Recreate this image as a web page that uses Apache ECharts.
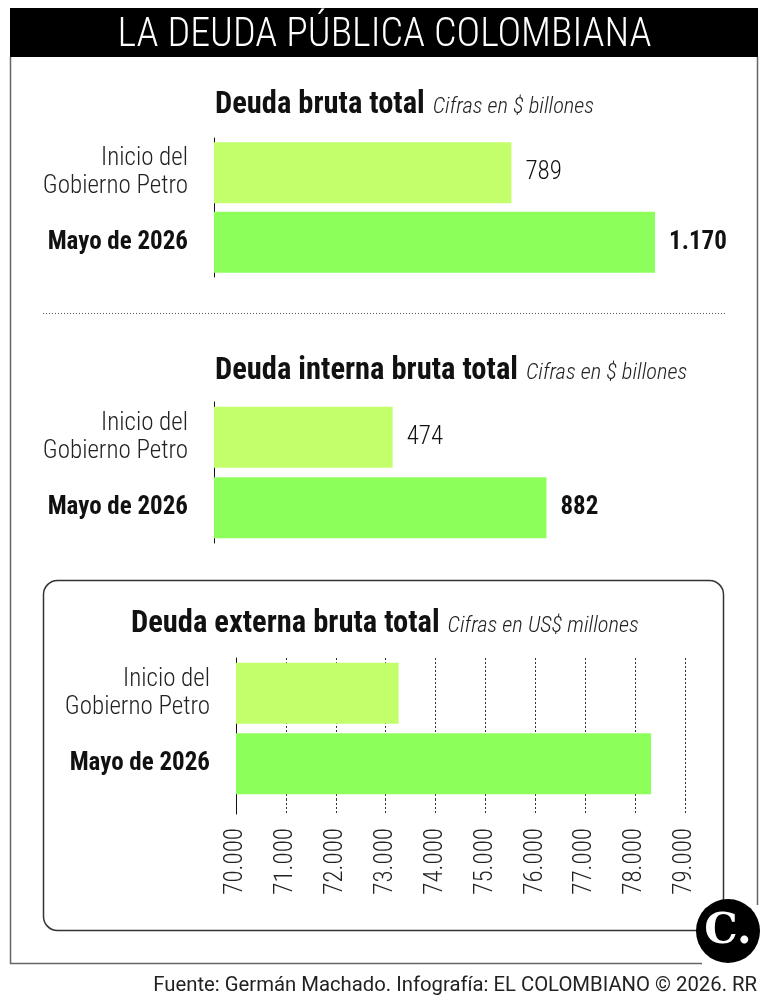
<!DOCTYPE html>
<html>
<head>
<meta charset="utf-8">
<script src="https://cdn.jsdelivr.net/npm/echarts@6/dist/echarts.min.js"></script>
<style>
  html, body { margin: 0; padding: 0; background: #fff; }
  #chart { width: 769px; height: 1005px; }
</style>
</head>
<body>
<div id="chart"></div>
<script>
// datos
const categories = ['Inicio del\nGobierno Petro', 'Mayo de 2026']
const brutaTotal = [789, 1170]
const internaTotal = [474, 882]
const externaTotal = [73260, 78320]
const externaMin = 70000
const externaMax = 79000
const externaStep = 1000
const barColors = ['#c2ff6a', '#8cff5a']

const FONT = "'Roboto Condensed', Roboto, sans-serif"
const fmt = n => n.toLocaleString('de-DE')

const chart = echarts.init(document.getElementById('chart'))

const catAxis = (gridIndex) => ({
  type: 'category',
  gridIndex,
  data: categories,
  inverse: true,
  axisLine: { lineStyle: { color: '#111', width: 1 } },
  axisTick: { show: false },
  axisLabel: {
    margin: 26,
    formatter: (v, i) => i ? `{b|${v}}` : `{n|${v}}`,
    rich: {
      n: { fontFamily: FONT, fontSize: 25, fontWeight: 300, color: '#222', lineHeight: 28, align: 'right' },
      b: { fontFamily: FONT, fontSize: 25, fontWeight: 'bold', color: '#111', align: 'right' }
    }
  }
})

const barSeries = (values, idx, showLabel) => ({
  type: 'bar',
  xAxisIndex: idx,
  yAxisIndex: idx,
  barWidth: 61,
  data: values.map((v, i) => ({
    value: v,
    itemStyle: { color: barColors[i] },
    label: { fontWeight: i ? 'bold' : 300 }
  })),
  label: {
    show: showLabel,
    position: 'right',
    distance: 14,
    fontFamily: FONT,
    fontSize: 25,
    color: '#111',
    formatter: p => fmt(p.value)
  },
  silent: true
})

const chartTitle = (main, sub, left, top) => ({
  text: `{b|${main}} {i|${sub}}`,
  left, top,
  textStyle: {
    rich: {
      b: { fontFamily: FONT, fontSize: 30.5, fontWeight: 'bold', color: '#111', lineHeight: 36, verticalAlign: 'bottom' },
      i: { fontFamily: FONT, fontSize: 22.5, fontStyle: 'italic', fontWeight: 300, color: '#222', lineHeight: 36, verticalAlign: 'bottom', padding: [0, 0, 2, 3] }
    }
  }
})

const dotted = { show: true, lineStyle: { color: '#333', type: [2, 2], width: 1 } }

const option = {
  animation: false,
  backgroundColor: '#fff',
  title: [
    {
      text: 'LA DEUDA PÚBLICA COLOMBIANA',
      left: 'center', top: 11,
      textStyle: { fontFamily: FONT, fontSize: 40, fontWeight: 300, color: '#fff' }
    },
    chartTitle('Deuda bruta total', 'Cifras en $ billones', 210, 80),
    chartTitle('Deuda interna bruta total', 'Cifras en $ billones', 210, 346),
    chartTitle('Deuda externa bruta total', 'Cifras en US$ millones', 126, 599)
  ],
  grid: [
    { left: 214, top: 138, width: 490, height: 139 },
    { left: 214, top: 402, width: 490, height: 141 },
    { left: 236, top: 658, width: 449, height: 141 },
    { left: 236, top: 799, width: 449, height: 15 }
  ],
  xAxis: [
    { type: 'value', gridIndex: 0, min: 0, max: 1300, show: false },
    { type: 'value', gridIndex: 1, min: 0, max: 1300, show: false },
    {
      type: 'value', gridIndex: 2, min: externaMin, max: externaMax, interval: externaStep,
      axisLine: { show: false }, axisTick: { show: false }, axisLabel: { show: false },
      splitLine: dotted
    },
    {
      type: 'value', gridIndex: 3, min: externaMin, max: externaMax, interval: externaStep,
      axisLine: { show: false }, axisTick: { show: false },
      axisLabel: { rotate: 90, margin: 14, fontFamily: FONT, fontSize: 25, fontWeight: 300, color: '#222', formatter: v => fmt(v) },
      splitLine: dotted
    }
  ],
  yAxis: [
    catAxis(0),
    catAxis(1),
    catAxis(2),
    {
      type: 'category', gridIndex: 3, data: [''],
      axisLine: { lineStyle: { color: '#111', width: 1 } },
      axisTick: { show: false }, axisLabel: { show: false }
    }
  ],
  series: [
    barSeries(brutaTotal, 0, true),
    barSeries(internaTotal, 1, true),
    barSeries(externaTotal, 2, false)
  ],
  graphic: [
    { type: 'rect', shape: { x: 10, y: 8, width: 748, height: 49 }, style: { fill: '#000' }, z: -1 },
    { type: 'polyline', shape: { points: [[10.5, 57], [10.5, 963.5], [702, 963.5]] }, style: { stroke: '#666', lineWidth: 1.5, fill: null } },
    { type: 'line', shape: { x1: 757.5, y1: 57, x2: 757.5, y2: 905 }, style: { stroke: '#666', lineWidth: 1.5 } },
    { type: 'line', shape: { x1: 43, y1: 313.5, x2: 727, y2: 313.5 }, style: { stroke: '#555', lineWidth: 1, lineDash: [1, 2] } },
    { type: 'rect', shape: { x: 43.5, y: 580.5, width: 680, height: 350, r: 14 }, style: { stroke: '#333', lineWidth: 1.5, fill: null } },
    { type: 'circle', shape: { cx: 728, cy: 931, r: 32 }, style: { fill: '#000' }, z: 10 },
    { type: 'text', x: 728, y: 932, z: 11, style: { text: 'C.', fill: '#fff', font: "bold 42px 'DejaVu Serif', serif", textAlign: 'center', textVerticalAlign: 'middle' } },
    { type: 'text', x: 757, y: 986, style: { text: 'Fuente: Germán Machado. Infografía: EL COLOMBIANO © 2026. RR', fill: '#222', font: '20.3px Roboto, sans-serif', textAlign: 'right', textVerticalAlign: 'middle' } }
  ]
}

chart.setOption(option)
</script>
</body>
</html>
